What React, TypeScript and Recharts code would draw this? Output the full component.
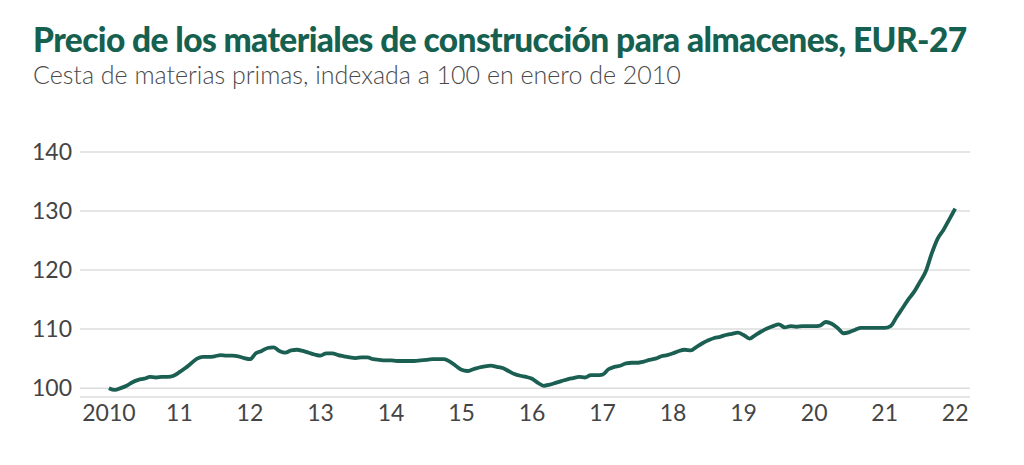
import { CartesianGrid, Line, LineChart, XAxis, YAxis } from 'recharts'

const title = 'Precio de los materiales de construcción para almacenes, EUR-27'
const subtitle = 'Cesta de materias primas, indexada a 100 en enero de 2010'

// monthly index values, Jan..Dec of each year
const v2010 = [100.0, 99.7, 100.0, 100.4, 101.0, 101.4, 101.6, 101.9, 101.8, 101.9, 101.9, 102.1]
const v2011 = [102.7, 103.4, 104.2, 105.0, 105.3, 105.3, 105.4, 105.6, 105.5, 105.5, 105.4, 105.1]
const v2012 = [104.9, 105.9, 106.3, 106.8, 106.9, 106.3, 106.0, 106.4, 106.5, 106.3, 106.0, 105.7]
const v2013 = [105.5, 105.9, 105.9, 105.6, 105.4, 105.2, 105.1, 105.2, 105.2, 104.9, 104.8, 104.7]
const v2014 = [104.7, 104.6, 104.6, 104.6, 104.6, 104.7, 104.8, 104.9, 104.9, 104.9, 104.5, 103.8]
const v2015 = [103.1, 102.9, 103.2, 103.5, 103.7, 103.8, 103.6, 103.4, 102.9, 102.4, 102.1, 101.9]
const v2016 = [101.6, 100.9, 100.4, 100.6, 100.9, 101.2, 101.5, 101.7, 101.9, 101.8, 102.2, 102.2]
const v2017 = [102.3, 103.2, 103.6, 103.8, 104.2, 104.3, 104.3, 104.5, 104.8, 105.0, 105.4, 105.6]
const v2018 = [105.9, 106.3, 106.5, 106.4, 107.0, 107.6, 108.1, 108.5, 108.7, 109.0, 109.2, 109.4]
const v2019 = [109.0, 108.4, 109.0, 109.6, 110.1, 110.5, 110.8, 110.3, 110.5, 110.4, 110.5, 110.5]
const v2020 = [110.5, 110.6, 111.2, 110.9, 110.2, 109.3, 109.5, 109.9, 110.2, 110.2, 110.2, 110.2]
const v2021 = [110.2, 110.5, 112.0, 113.5, 115.0, 116.3, 118.0, 119.8, 122.8, 125.3, 126.8, 128.6]
const v2022 = [130.4]

const years = [2010, 2011, 2012, 2013, 2014, 2015, 2016, 2017, 2018, 2019, 2020, 2021, 2022]
const yearValues = [v2010, v2011, v2012, v2013, v2014, v2015, v2016, v2017, v2018, v2019, v2020, v2021, v2022]
const yTicks = [100, 110, 120, 130, 140]

const data = yearValues.flatMap((vals, yi) =>
  vals.map((v, mi) => ({ t: years[yi] + mi / 12, v }))
)

const green = '#1b5f53'
const font = 'Lato, "Noto Sans", sans-serif'

export default function App() {
  return (
    <div style={{ position: 'relative', width: 1024, height: 465, margin: -8, background: '#fff', fontFamily: font }}>
      <div
        style={{
          position: 'absolute',
          left: 33,
          top: 19,
          fontSize: 33.5,
          fontWeight: 900,
          color: '#16604f',
          lineHeight: '40px',
          letterSpacing: -0.6,
          whiteSpace: 'nowrap',
        }}
      >
        {title}
      </div>
      <div
        style={{
          position: 'absolute',
          left: 33,
          top: 59,
          fontSize: 25,
          fontWeight: 300,
          color: '#4a4a4a',
          lineHeight: '30px',
          whiteSpace: 'nowrap',
        }}
      >
        {subtitle}
      </div>
      <div style={{ position: 'absolute', left: 0, top: 0 }}>
        <LineChart width={1024} height={465} data={data} margin={{ top: 152, right: 54, bottom: 38, left: 0 }}>
          <CartesianGrid vertical={false} stroke="#dcdcdc" strokeWidth={1.5} />
          <XAxis
            dataKey="t"
            type="number"
            domain={[2009.59, 2022.21]}
            ticks={years}
            tickFormatter={(y: number) => (y === 2010 ? '2010' : String(y).slice(2))}
            tickLine={false}
            axisLine={false}
            height={30}
            tick={{ fill: '#444', fontSize: 23, fontFamily: font }}
            interval={0}
          />
          <YAxis
            type="number"
            domain={[98.5, 140]}
            ticks={yTicks}
            tickLine={false}
            axisLine={false}
            width={80}
            tick={{ fill: '#444', fontSize: 23, fontFamily: font }}
          />
          <Line
            type="monotone"
            dataKey="v"
            stroke={green}
            strokeWidth={3.8}
            dot={false}
            isAnimationActive={false}
          />
        </LineChart>
      </div>
    </div>
  )
}
